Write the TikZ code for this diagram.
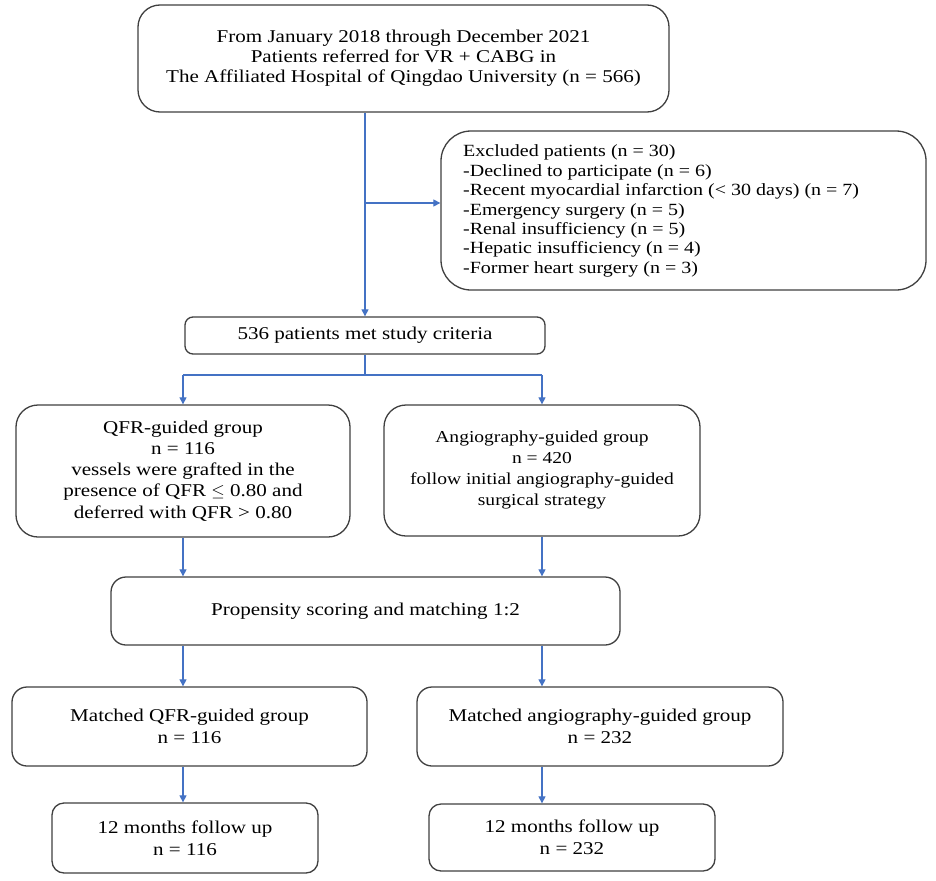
\documentclass[tikz,border=0pt]{standalone}
\usepackage{fontspec}
\setmainfont{Liberation Serif}
\newfontfamily\widefont[FakeStretch=1.17]{Liberation Serif}
\usetikzlibrary{arrows.meta,calc}
\definecolor{boxline}{HTML}{404040}
\definecolor{arrowblue}{HTML}{4472C4}
\tikzset{
  box/.style={draw=boxline, line width=1.3pt, align=center, inner sep=0pt},
  conn/.style={draw=arrowblue, line width=1.1pt},
  arr/.style={conn, -{Triangle[width=7pt,length=7pt]}},
  txttop/.style={font=\widefont\fontsize{18}{20}\selectfont},
  txtqfr/.style={font=\widefont\fontsize{18}{21.2}\selectfont},
  txtang/.style={font=\widefont\fontsize{16.7}{21}\selectfont},
  txtlow/.style={font=\widefont\fontsize{18}{22}\selectfont},
}
\begin{document}
\begin{tikzpicture}[x=1pt,y=-1pt]
\useasboundingbox (0,0) rectangle (936,880);
\fill[white] (0,0) rectangle (936,880);

\node[box, txttop, rounded corners=22pt, minimum width=531pt, minimum height=107pt] (top) at (403.5,58.5)
  {From January 2018 through December 2021\\Patients referred for VR + CABG in\\The Affiliated Hospital of Qingdao University (n = 566)};

\node[box, rounded corners=30pt, minimum width=485pt, minimum height=159pt] (excl) at (683.5,210.5) {};
\node[anchor=west, align=left, font=\widefont\fontsize{17.1}{19.4}\selectfont, inner sep=0pt] (excltext) at (463,211)
  {Excluded patients (n = 30)\\-Declined to participate (n = 6)\\-Recent myocardial infarction (< 30 days) (n = 7)\\-Emergency surgery (n = 5)\\-Renal insufficiency (n = 5)\\-Hepatic insufficiency (n = 4)\\-Former heart surgery (n = 3)};

\node[box, txttop, rounded corners=8pt, minimum width=360pt, minimum height=37pt] (crit) at (365,335.5)
  {536 patients met study criteria};

\node[box, txtqfr, rounded corners=22pt, minimum width=334pt, minimum height=132pt] (qfr) at (183,471)
  {QFR-guided group\\n = 116\\vessels were grafted in the\\presence of QFR $\leq$ 0.80 and\\deferred with QFR > 0.80};

\node[box, txtang, rounded corners=22pt, minimum width=316pt, minimum height=131pt] (angio) at (542,470.5)
  {Angiography-guided group\\n = 420\\follow initial angiography-guided\\surgical strategy};

\node[box, txtlow, rounded corners=15pt, minimum width=509pt, minimum height=68pt] (prop) at (365.5,611)
  {Propensity scoring and matching 1:2};

\node[box, txtlow, rounded corners=15pt, minimum width=355pt, minimum height=79pt] (mq) at (189.5,726.5)
  {Matched QFR-guided group\\n = 116};
\node[box, txtlow, rounded corners=15pt, minimum width=366pt, minimum height=79pt] (ma) at (600,726.5)
  {Matched angiography-guided group\\n = 232};

\node[box, txtlow, rounded corners=12pt, minimum width=266pt, minimum height=70pt] (fq) at (185,838)
  {12 months follow up\\n = 116};
\node[box, txtlow, rounded corners=12pt, minimum width=286pt, minimum height=67pt] (fa) at (572,837.5)
  {12 months follow up\\n = 232};

% connectors
\draw[arr] (top.south -| crit.north) -- (crit.north);
\coordinate (br) at (365,203);
\draw[arr] (br) -- (br -| excl.west);
\coordinate (split) at (365,375);
\draw[conn] (crit.south) -- (split);
\draw[conn] (split -| qfr.north) -- (split -| angio.north);
\draw[arr] (split -| qfr.north) -- (qfr.north);
\draw[arr] (split -| angio.north) -- (angio.north);
\draw[arr] (qfr.south) -- (qfr.south |- prop.north);
\draw[arr] (angio.south) -- (angio.south |- prop.north);
\draw[arr] (prop.south -| qfr.south) -- (qfr.south |- mq.north);
\draw[arr] (prop.south -| angio.south) -- (angio.south |- ma.north);
\draw[arr] (mq.south -| qfr.south) -- (qfr.south |- fq.north);
\draw[arr] (ma.south -| angio.south) -- (angio.south |- fa.north);
\end{tikzpicture}
\end{document}
